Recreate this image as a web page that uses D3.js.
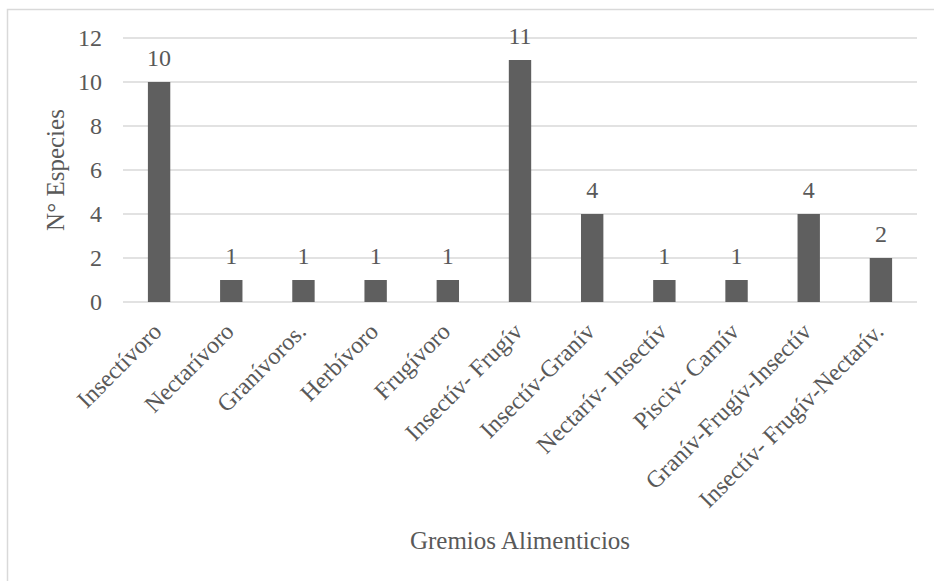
<!DOCTYPE html>
<html>
<head>
<meta charset="utf-8">
<script src="https://cdn.jsdelivr.net/npm/d3@7"></script>
<style>
  body { margin: 0; background: #fff; }
  svg text { font-family: "Liberation Serif", "Times New Roman", serif; fill: #595959; }
</style>
</head>
<body>
<div id="chart"></div>
<script>
// chart data
const categories = [
  "Insectívoro", "Nectarívoro", "Granívoros.", "Herbívoro", "Frugívoro",
  "Insectív- Frugív", "Insectív-Granív", "Nectarív- Insectív", "Pisciv- Carnív",
  "Granív-Frugív-Insectív", "Insectív- Frugív-Nectarív."
];
const speciesCount = [10, 1, 1, 1, 1, 11, 4, 1, 1, 4, 2];
const yTicks = [0, 2, 4, 6, 8, 10, 12];

const CHART_CONFIG = {
  width: 934,
  height: 581,
  margin: { top: 38, right: 17, bottom: 279, left: 123 },
  fontSize: 24,
  titleFontSize: 25,
  barFill: "#5f5f5f",
  gridColor: "#d9d9d9",
};

const { width, height, margin } = CHART_CONFIG;
const innerWidth = width - margin.left - margin.right;
const innerHeight = height - margin.top - margin.bottom;

const svg = d3.select("#chart").append("svg")
  .attr("width", width)
  .attr("height", height);

// outer chart frame (right and bottom edges fall outside the picture)
svg.append("rect")
  .attr("x", 7.5).attr("y", 9.5)
  .attr("width", 940).attr("height", 590)
  .attr("fill", "none")
  .attr("stroke", CHART_CONFIG.gridColor)
  .attr("stroke-width", 1.5);

const g = svg.append("g").attr("transform", `translate(${margin.left},${margin.top})`);

const x = d3.scaleBand().domain(categories).range([0, innerWidth]).paddingInner(0.69).paddingOuter(0.345);
const y = d3.scaleLinear().domain([0, 12]).range([innerHeight, 0]);

// gridlines
g.append("g")
  .selectAll("line")
  .data(yTicks)
  .join("line")
  .attr("x1", 0).attr("x2", innerWidth)
  .attr("y1", d => y(d)).attr("y2", d => y(d))
  .attr("stroke", CHART_CONFIG.gridColor)
  .attr("stroke-width", 1.5);

// y axis labels
const yAxis = g.append("g")
  .call(d3.axisLeft(y).tickValues(yTicks).tickSize(0).tickPadding(21));
yAxis.select(".domain").remove();
yAxis.selectAll("text")
  .attr("font-size", CHART_CONFIG.fontSize)
  .attr("fill", "#595959");

// bars
g.selectAll(".bar")
  .data(categories)
  .join("rect")
  .attr("class", "bar")
  .attr("x", d => x(d))
  .attr("y", (d, i) => y(speciesCount[i]))
  .attr("width", x.bandwidth())
  .attr("height", (d, i) => innerHeight - y(speciesCount[i]))
  .attr("fill", CHART_CONFIG.barFill);

// value labels
g.selectAll(".val")
  .data(categories)
  .join("text")
  .attr("class", "val")
  .attr("x", d => x(d) + x.bandwidth() / 2)
  .attr("y", (d, i) => y(speciesCount[i]) - 16)
  .attr("text-anchor", "middle")
  .attr("font-size", CHART_CONFIG.fontSize)
  .text((d, i) => speciesCount[i]);

// x axis labels, rotated
const xAxis = g.append("g")
  .attr("transform", `translate(0,${innerHeight})`)
  .call(d3.axisBottom(x).tickSize(0).tickPadding(0));
xAxis.select(".domain").remove();
xAxis.selectAll("text")
  .attr("font-size", CHART_CONFIG.fontSize)
  .attr("fill", "#595959")
  .attr("text-anchor", "end")
  .attr("dy", null)
  .attr("y", 0)
  .attr("transform", "translate(4,31) rotate(-45)");

// axis titles
svg.append("text")
  .attr("transform", `translate(64,${margin.top + innerHeight / 2}) rotate(-90)`)
  .attr("text-anchor", "middle")
  .attr("font-size", CHART_CONFIG.titleFontSize)
  .text("N° Especies");

svg.append("text")
  .attr("x", margin.left + innerWidth / 2)
  .attr("y", 549)
  .attr("text-anchor", "middle")
  .attr("font-size", CHART_CONFIG.titleFontSize)
  .text("Gremios Alimenticios");
</script>
</body>
</html>
